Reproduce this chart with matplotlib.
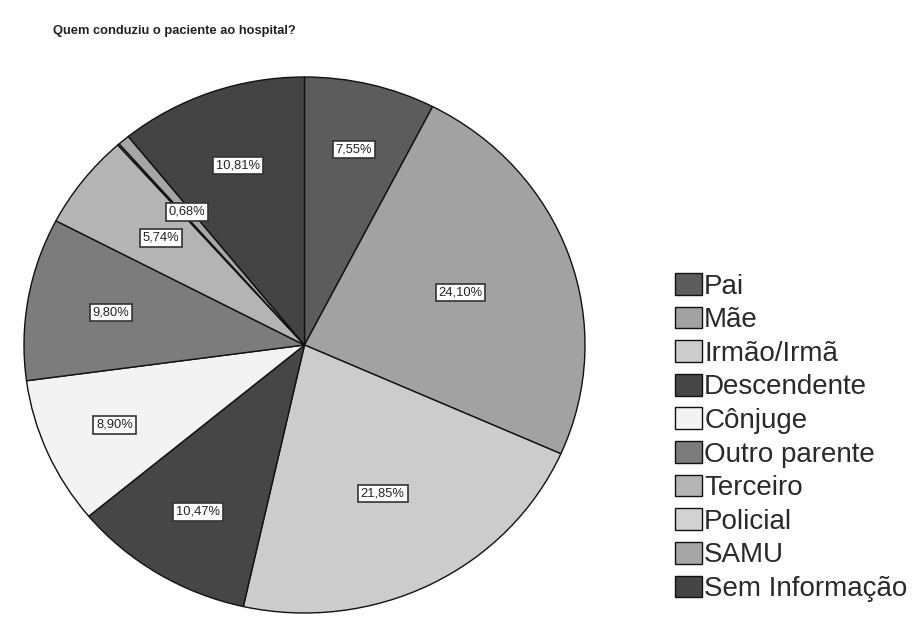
import matplotlib
matplotlib.use("Agg")
import matplotlib.pyplot as plt
import numpy as np

plt.rcParams['font.family'] = ['Liberation Sans', 'DejaVu Sans']

categories = ["Pai", "Mãe", "Irmão/Irmã", "Descendente", "Cônjuge",
              "Outro parente", "Terceiro", "Policial", "SAMU", "Sem Informação"]
values = [7.55, 24.10, 21.85, 10.47, 8.90, 9.80, 5.74, 0.10, 0.68, 10.81]
value_labels = ["7,55%", "24,10%", "21,85%", "10,47%", "8,90%",
                "9,80%", "5,74%", "", "0,68%", "10,81%"]
colors = ["#5c5c5c", "#a2a2a2", "#cccccc", "#464646", "#f3f3f3",
          "#7c7c7c", "#b4b4b4", "#d2d2d2", "#a6a6a6", "#444444"]
label_radius = [0.75, 0.59, 0.62, 0.73, 0.74, 0.70, 0.65, 0.0, 0.65, 0.71]

W, H = 914, 618
fig = plt.figure(figsize=(W / 100, H / 100), dpi=100)

# pie axes in pixel coords (ellipse)
x0, x1, y0, y1 = 24, 585, 77, 613
ax = fig.add_axes([x0 / W, 1 - y1 / H, (x1 - x0) / W, (y1 - y0) / H])
wedges, _ = ax.pie(values, colors=colors, startangle=90, counterclock=False,
                   wedgeprops=dict(edgecolor="#111111", linewidth=1.0))
ax.set_aspect('auto')
ax.set_xlim(-1.0, 1.0)
ax.set_ylim(-1.0, 1.0)
ax.axis('off')

total = sum(values)
cum = np.cumsum([0] + values)
for i, lab in enumerate(value_labels):
    if not lab:
        continue
    mid = (cum[i] + values[i] / 2) / total * 2 * np.pi
    r = label_radius[i]
    ax.text(r * np.sin(mid), r * np.cos(mid), lab, ha='center', va='center',
            fontsize=9.3, color="#222222",
            bbox=dict(boxstyle='square,pad=0.22', fc='white', ec='#333333', lw=1.2))

fig.text(53 / W, 1 - 31 / H, "Quem conduziu o paciente ao hospital?",
         fontsize=9.3, fontweight='bold', color="#222222", ha='left', va='center')

leg = fig.legend(wedges, categories, loc='upper left',
                 bbox_to_anchor=(675 / W, 1 - 273 / H), frameon=False,
                 fontsize=20, handlelength=0.97, handleheight=0.83,
                 handletextpad=0.08, labelspacing=0.255, borderpad=0, borderaxespad=0)
for t in leg.get_texts():
    t.set_color("#2a2a2a")

fig.savefig("out.png", dpi=100)
